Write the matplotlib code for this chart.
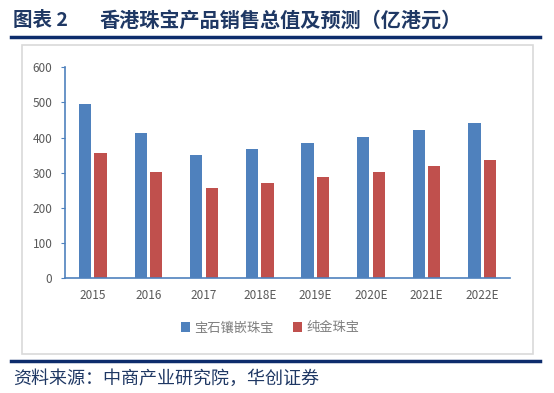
import numpy as np
import matplotlib.pyplot as plt
from matplotlib.patches import Rectangle
from matplotlib.lines import Line2D

plt.rcParams['font.family'] = ['Noto Sans CJK SC', 'DejaVu Sans']

years = ['2015', '2016', '2017', '2018E', '2019E', '2020E', '2021E', '2022E']
gem = [497, 414, 350, 367, 385, 403, 423, 442]
gold = [357, 301, 258, 271, 287, 301, 318, 335]
names = ['宝石镶嵌珠宝', '纯金珠宝']

W, H = 554, 393
fig = plt.figure(figsize=(W / 100, H / 100), dpi=100)

# title and rules
fig.text(13 / W, 1 - 20 / H, '图表 2', fontsize=14, fontweight='bold',
         color='#1F3864', va='center', ha='left')
fig.text(100 / W, 1 - 20 / H, '香港珠宝产品销售总值及预测（亿港元）',
         fontsize=14.5, fontweight='bold', color='#1F3864', va='center', ha='left')
fig.add_artist(Line2D([11 / W, 540 / W], [1 - 37 / H] * 2, color='#0D2C6C', lw=2.5))
fig.add_artist(Line2D([11 / W, 540 / W], [1 - 361 / H] * 2, color='#0D2C6C', lw=2.5))
fig.add_artist(Rectangle((22 / W, 1 - 354 / H), (533 - 22) / W, (354 - 45) / H,
                         fill=False, ec='#D9D9D9', lw=1.2))
fig.text(13 / W, 1 - 379 / H, '资料来源：中商产业研究院，华创证券',
         fontsize=13, color='#1F3864', style='italic', va='center', ha='left')

ax = fig.add_axes([65 / W, 1 - 278.3 / H, (510 - 65) / W, (278.3 - 67.3) / H])
x = np.arange(len(years))
w = 0.22
ax.bar(x - 0.14, gem, w, color='#4F81BD', label=names[0])
ax.bar(x + 0.14, gold, w, color='#C0504D', label=names[1])

ax.set_xlim(-0.5, len(years) - 0.5)
ax.set_ylim(0, 600)
ax.set_yticks(range(0, 601, 100))
ax.set_xticks(x)
ax.set_xticklabels(years)
for s in ['top', 'right']:
    ax.spines[s].set_visible(False)
for s in ['left', 'bottom']:
    ax.spines[s].set_color('#4F81BD')
    ax.spines[s].set_linewidth(1.2)
ax.tick_params(axis='y', length=3, color='#4F81BD', labelsize=8.5, labelcolor='#595959', pad=6)
ax.tick_params(axis='x', length=0, labelsize=8.5, labelcolor='#595959', pad=8)

ax.legend(loc='center', bbox_to_anchor=((270 - 65) / (510 - 65), -(328 - 278.3) / (278.3 - 67.3)),
          ncol=2, frameon=False, fontsize=9.5, labelcolor='#7F7F7F',
          handlelength=0.7, handleheight=0.7, handletextpad=0.3, columnspacing=1.5)

fig.savefig('out.png', dpi=100)
